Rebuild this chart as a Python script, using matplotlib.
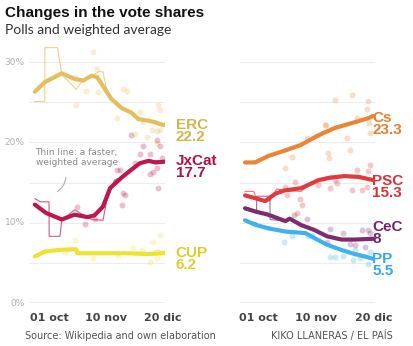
import matplotlib.pyplot as plt

# days counted from 01 oct
# ---- left panel ----
erc_x = [-10, -3, 9, 18, 24, 30, 34, 38, 44, 51, 58, 63, 70, 75, 79.5, 81.5]
erc_y = [26.3, 27.5, 28.6, 27.9, 27.7, 28.3, 28.1, 27.0, 25.4, 24.3, 23.7, 22.9, 22.7, 22.5, 22.2, 22.2]
erc_thin_x = [-10, -3, -2.9, 0, 6, 9, 16, 19, 24, 30, 35, 38, 40, 44, 51, 58, 63, 70, 81.5]
erc_thin_y = [25.1, 25.1, 31.8, 31.8, 31.8, 28.4, 27.2, 26.6, 27.8, 28.3, 28.8, 28.8, 27.0, 25.4, 24.3, 23.7, 22.9, 22.6, 22.1]
erc_pts_x = [31.2, 33.6, 18.3, 25.8, 19, 34.3, 52.3, 54.7, 47.7, 64, 77, 78.2, 66.4, 72.3, 75.8, 60.6, 68.8, 78, 75.8]
erc_pts_y = [31.2, 29.2, 28.2, 26.4, 24.6, 26.3, 26.6, 26.4, 23.0, 23.8, 24.6, 24.0, 22.6, 21.6, 21.4, 21.0, 20.7, 21.5, 19.9]

jx_x = [-10, -2, 9, 18, 27, 32, 38, 43, 51, 58, 64, 70, 75, 81.5]
jx_y = [12.25, 11.2, 10.4, 11.0, 10.7, 10.9, 12.0, 14.3, 15.6, 16.6, 17.4, 17.7, 17.5, 17.6]
jx_thin_x = [-10, -6, 0, 0.1, 7.7, 9, 18, 21, 30, 38, 40.5, 46, 53, 58, 64, 70, 81.5]
jx_thin_y = [13.0, 12.6, 12.6, 8.3, 8.3, 10.3, 11.6, 11.3, 10.4, 10.3, 12.6, 15.3, 15.8, 16.7, 17.5, 17.8, 17.6]
jx_pts_x = [19.5, 25.4, 47.7, 50, 52.3, 53.5, 51.2, 60.6, 64, 66.4, 71, 71, 73.5, 75.8, 77, 78.2, 58, 75.8, 79.4, 32.4]
jx_pts_y = [12.0, 9.8, 16.6, 16.5, 13.7, 13.5, 12.2, 17.4, 18.6, 19.5, 18.6, 16.1, 16.3, 16.8, 14.3, 19.5, 20.9, 20.3, 18.0, 10.5]

cup_x = [-10, -3, 6, 19, 20, 34, 53, 70, 81.5]
cup_y = [5.8, 6.4, 6.6, 6.7, 6.2, 6.2, 6.2, 6.1, 6.2]
cup_thin_x = [-10, -3, 6, 19, 20, 34, 53, 70, 76, 81.5]
cup_thin_y = [5.7, 6.3, 6.6, 6.7, 6.1, 6.1, 6.3, 6.0, 6.6, 6.4]
cup_pts_x = [18.3, 59.4, 73.5, 78.2, 71, 75.8, 31.2, 48.8, 65.3, 11.3]
cup_pts_y = [7.85, 6.8, 7.6, 8.5, 5.1, 5.6, 5.6, 6.0, 6.6, 6.3]

# ---- right panel ----
cs_x = [-9, -2, 7, 19, 30, 42, 53.5, 65, 76.5, 80]
cs_y = [17.5, 17.5, 18.3, 19.0, 19.7, 20.9, 21.8, 22.4, 23.0, 23.3]
cs_thin_x = [-9, -2, 7, 19, 25, 30, 42, 53.5, 65, 76.5, 80]
cs_thin_y = [17.5, 17.7, 18.1, 19.2, 19.2, 19.9, 20.6, 22.0, 22.3, 23.2, 23.1]
cs_pts_x = [53.5, 65, 76.6, 75.5, 68.5, 77.3, 77.8, 47.2, 33.8, 49.5, 48.9, 63.9, 18.8, 23.4, 61.6, 46.5]
cs_pts_y = [25.3, 25.9, 25.2, 24.2, 23.0, 22.4, 21.2, 22.2, 20.5, 18.1, 18.7, 19.0, 16.8, 18.2, 20.5, 22.2]

psc_x = [-9, -3, 5, 12, 18, 30, 42, 50, 60, 70, 80]
psc_y = [13.4, 13.1, 12.7, 13.6, 14.0, 14.3, 15.3, 15.6, 15.8, 15.7, 15.3]
psc_thin_x = [-9, -3, -1, 8, 13, 18, 30, 35, 42, 50, 60, 70, 80]
psc_thin_y = [13.9, 13.9, 12.9, 12.7, 14.2, 14.0, 13.9, 14.6, 15.4, 15.8, 15.7, 15.6, 15.4]
psc_pts_x = [18.8, 25.7, 30.3, 26.9, 19.9, 29.2, 50, 53.5, 65, 72, 76.6, 77.8, 68.5, 75.5, 54.6, 41.9]
psc_pts_y = [14.5, 15.1, 12.2, 11.2, 13.5, 13.0, 14.3, 15.3, 14.1, 14.1, 16.4, 17.2, 16.6, 14.5, 14.9, 14.7]

cec_x = [-9, -2, 7, 19, 22, 30, 39, 48, 58, 67, 74, 80]
cec_y = [11.8, 11.4, 11.0, 10.2, 10.5, 9.7, 9.1, 8.3, 7.9, 7.9, 7.95, 8.0]
cec_thin_x = [-9, -1, -0.9, 8.3, 8.4, 19, 22, 30, 39, 48, 58, 67, 80]
cec_thin_y = [11.6, 11.4, 13.3, 13.3, 10.4, 10.2, 10.6, 9.6, 9.2, 8.2, 7.9, 8.0, 8.1]
cec_pts_x = [33.8, 50, 59.3, 72, 76.6, 77.8, 63.9, 74.3, 47.7, 67.4, 25.2]
cec_pts_y = [10.4, 9.2, 8.7, 9.1, 9.1, 8.7, 7.4, 7.0, 7.6, 7.2, 11.0]

pp_x = [-9, -2, 7, 19, 33, 39, 48, 58, 67, 74, 80]
pp_y = [10.3, 9.75, 9.3, 8.9, 8.7, 8.1, 7.25, 6.6, 6.1, 5.8, 5.5]
pp_thin_x = [-9, -1, -0.9, 8.3, 8.4, 19, 33, 39, 48, 58, 67, 74, 80]
pp_thin_y = [10.2, 10.0, 9.5, 9.5, 9.2, 8.9, 8.6, 8.0, 7.3, 6.5, 6.1, 5.7, 5.6]
pp_pts_x = [18.3, 23.4, 35, 50, 53.5, 59.3, 66.2, 70.8, 76.6, 77.8, 67.4, 37.3]
pp_pts_y = [7.6, 8.3, 8.3, 5.7, 5.7, 5.8, 5.35, 5.6, 4.9, 6.4, 6.6, 8.5]

tick_pos = [0, 40, 80]
tick_labels = ['01 oct', '10 nov', '20 dic']

left_parties = [
    ('ERC', '22.2', '#e6bd5d', '#d8b24c', erc_x, erc_y, erc_thin_x, erc_thin_y, erc_pts_x, erc_pts_y),
    ('JxCat', '17.7', '#bd1650', '#b01148', jx_x, jx_y, jx_thin_x, jx_thin_y, jx_pts_x, jx_pts_y),
    ('CUP', '6.2', '#f0e233', '#dcce2e', cup_x, cup_y, cup_thin_x, cup_thin_y, cup_pts_x, cup_pts_y),
]
right_parties = [
    ('Cs', '23.3', '#eb8535', '#e57e2e', cs_x, cs_y, cs_thin_x, cs_thin_y, cs_pts_x, cs_pts_y),
    ('PSC', '15.3', '#e2393f', '#dc3139', psc_x, psc_y, psc_thin_x, psc_thin_y, psc_pts_x, psc_pts_y),
    ('CeC', '8', '#7b2d6d', '#732666', cec_x, cec_y, cec_thin_x, cec_thin_y, cec_pts_x, cec_pts_y),
    ('PP', '5.5', '#3fb1ec', '#35aae8', pp_x, pp_y, pp_thin_x, pp_thin_y, pp_pts_x, pp_pts_y),
]

label_font = ['Liberation Sans Narrow', 'Liberation Sans', 'DejaVu Sans']

fig = plt.figure(figsize=(4.14, 3.46), dpi=100)
ax1 = fig.add_axes([30 / 414, 43 / 346, 135 / 414, 261 / 346])
ax2 = fig.add_axes([240 / 414, 43 / 346, 135 / 414, 261 / 346])


def draw_panel(ax, parties, xlim, label_x, label_y):
    ax.set_xlim(*xlim)
    ax.set_ylim(0, 32.5)
    for y in [5, 10, 15, 20, 25, 30]:
        ax.axhline(y, color='#ededed', lw=0.8, zorder=0)
    ax.axhline(0, color='#a8a8a8', lw=1.0, zorder=1)
    for sp in ax.spines.values():
        sp.set_visible(False)
    ax.set_xticks(tick_pos)
    ax.set_xticklabels(tick_labels, fontsize=8, fontweight='bold', color='#444444')
    ax.tick_params(axis='x', length=0, pad=7)
    ax.set_yticks([])
    for (name, val, col, tcol, x, y, tx, ty, px, py), ly in zip(parties, label_y):
        ax.scatter(px, py, s=18, color=col, alpha=0.28, lw=0, zorder=2)
        ax.plot(tx, ty, color=col, lw=0.8, alpha=0.7, zorder=3)
        ax.plot(x, y, color=col, lw=3, solid_capstyle='round', zorder=4)
        ax.text(label_x, ly, name + '\n' + val, transform=ax.get_yaxis_transform(),
                color=tcol, fontsize=11, fontweight='bold', family=label_font,
                va='center', ha='left', linespacing=0.82, clip_on=False)


draw_panel(ax1, left_parties, (-13.4, 81.7), 1.08, [21.4, 16.9, 5.5])
draw_panel(ax2, right_parties, (-12.5, 81.2), 0.98, [22.3, 14.4, 8.7, 4.7])

# y labels only on the left
for y in [0, 10, 20, 30]:
    ax1.text(-0.04, y, f'{y}%', transform=ax1.get_yaxis_transform(),
             ha='right', va='center', fontsize=6.5, color='#b0b0b0')

# annotation
ax1.text(-9.5, 19.3, 'Thin line: a faster,\nweighted average', fontsize=6.5,
         color='#8a8a8a', va='top', ha='left', linespacing=1.1)
ax1.annotate('', xy=(4.2, 13.7), xytext=(12, 16.0),
             arrowprops=dict(arrowstyle='-', color='#b0b0b0', lw=0.8,
                             connectionstyle='arc3,rad=-0.3'))

# titles
fig.text(5 / 414, 1 - 13 / 346, 'Changes in the vote shares', fontsize=11,
         fontweight='bold', color='#111111', va='center', ha='left',
         family=['Liberation Sans', 'DejaVu Sans'])
fig.text(5 / 414, 1 - 30 / 346, 'Polls and weighted average', fontsize=10,
         color='#333333', va='center', ha='left', family=['Lato', 'DejaVu Sans'])

# source
fig.text(25 / 414, 1 - 336 / 346, 'Source: Wikipedia and own elaboration',
         fontsize=7, color='#555555', va='center', ha='left')
fig.text(393 / 414, 1 - 336 / 346, 'KIKO LLANERAS / EL PAÍS',
         fontsize=7, color='#555555', va='center', ha='right')

fig.savefig('out.png', dpi=100)
